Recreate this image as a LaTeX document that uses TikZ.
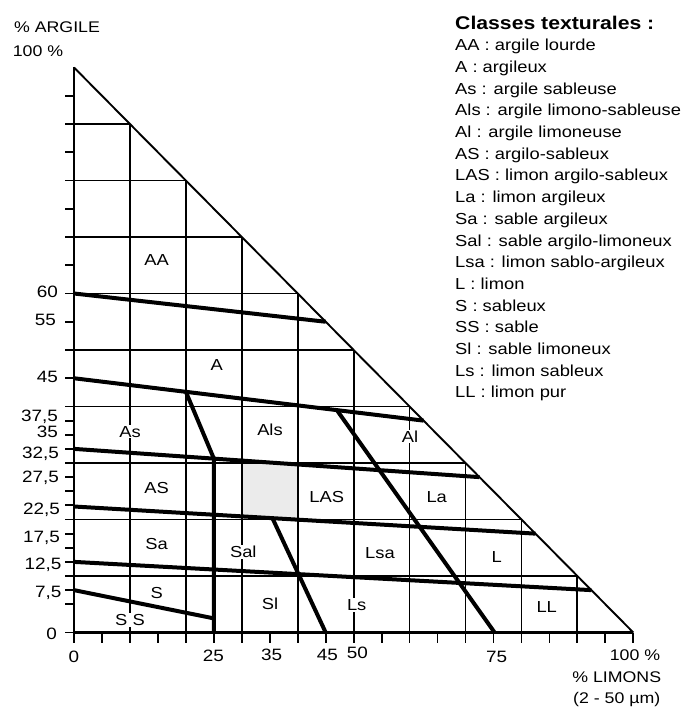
\documentclass[tikz,border=0pt]{standalone}
\usepackage{fontspec}
\setmainfont{Liberation Sans}[FakeStretch=1.15]
\begin{document}
\begin{tikzpicture}[x=1bp,y=-1bp,
  gridline/.style={line width=1.8bp},
  axisline/.style={line width=2.2bp},
  bound/.style={line width=4bp},
  cls/.style={fill=white, inner sep=1bp, font=\fontsize{16}{19}\selectfont},
  axnum/.style={anchor=base east, inner sep=0pt, font=\fontsize{16.5}{19}\selectfont},
  botnum/.style={anchor=base, inner sep=0pt, font=\fontsize{16.5}{19}\selectfont},
  legend/.style={anchor=base west, inner sep=0pt, font=\fontsize{16}{19}\selectfont},
  legtitle/.style={anchor=base west, inner sep=0pt, font=\fontsize{18.5}{22}\selectfont\bfseries}]
\useasboundingbox (0,0) rectangle (685,707);
\fill[white] (0,0) rectangle (685,707);
\begin{scope}[shift={(74,632.5)}, x=5.593bp, y=5.65bp]
  % shaded cell
  \fill[black!8] (30,20) rectangle (40,30);
  % grid
  \foreach \a in {10,20,...,90} {
    \draw[gridline] ({\a},0) -- ({\a},{100-\a});
    \draw[gridline] (0,{\a}) -- ({100-\a},{\a});
  }
  % ticks
  \foreach \a in {0,5,10,...,100} \draw[gridline] ({\a},0) -- ({\a},-1.8);
  \foreach \c in {0,5,7.5,10,12.5,15,17.5,20,22.5,25,27.5,30,32.5,35,37.5,40,45,50,55,60,65,70,75,80,85,90,95}
    \draw[gridline] (0,{\c}) -- (-1.6,{\c});
  % axes and hypotenuse
  \coordinate (O) at (0,0);
  \coordinate (T) at (0,100);
  \coordinate (R) at (100,0);
  \draw[axisline] (T) -- (O) -- (R);
  \draw[line width=1.9bp] (T) -- (R);
  % class boundaries
  \draw[bound] (0,60) -- (45,55);
  \draw[bound] (0,45) -- (62.5,37.5);
  \draw[bound] (0,32.5) -- (72.5,27.5);
  \draw[bound] (0,22.3) -- (82.5,17.5);
  \draw[bound] (0,12.5) -- (92.5,7.5);
  \draw[bound] (0,7.5) -- (25,2.5);
  \draw[bound] (25,0) -- (25,30.8) -- (20,42.6);
  \draw[bound] (35.5,20.2) -- (45,0);
  \draw[bound] (47,39.36) -- (75.2,0);
\end{scope}
% class labels
\node[cls] (AA) at (156.7,260) {AA};
\node[cls] (A) at (216.7,365) {A};
\node[cls] (As) at (130,431.7) {As};
\node[cls] (Als) at (270,430) {Als};
\node[cls] (Al) at (410,436.7) {Al};
\node[cls] (AS) at (156.7,488.3) {AS};
\node[cls] (LAS) at (326.7,496.7) {LAS};
\node[cls] (La) at (436.7,496.7) {La};
\node[cls] (Sa) at (156.7,544) {Sa};
\node[cls] (Sal) at (243.3,551.7) {Sal};
\node[cls] (Lsa) at (380,553.3) {Lsa};
\node[cls] (L) at (496.7,556.7) {L};
\node[cls] (S) at (156.7,593.3) {S};
\node[cls] (SS) at (130,620) {S S};
\node[cls] (Sl) at (270,603.3) {Sl};
\node[cls] (Ls) at (356.7,605) {Ls};
\node[cls] (LL) at (546.7,606.7) {LL};
% axis titles
\node[inner sep=0pt, font=\fontsize{15.5}{18}\selectfont] (argile) at (57,27) {\% ARGILE};
\node[inner sep=0pt, font=\fontsize{15.5}{18}\selectfont] (cent) at (38,51) {100 \%};
% left axis numbers
\node[axnum] (l60) at (58,297.8) {60};
\node[axnum] (l55) at (56,325.8) {55};
\node[axnum] (l45) at (58,382.5) {45};
\node[axnum] (l375) at (58,421.6) {37,5};
\node[axnum] (l35) at (58,437.5) {35};
\node[axnum] (l325) at (59,458.3) {32,5};
\node[axnum] (l275) at (59,482.5) {27,5};
\node[axnum] (l225) at (60,514.1) {22,5};
\node[axnum] (l175) at (60,542.5) {17,5};
\node[axnum] (l125) at (61.5,569.1) {12,5};
\node[axnum] (l75) at (61.5,597.5) {7,5};
\node[axnum] (l0) at (57,639.1) {0};
% bottom axis numbers
\node[botnum] (b0) at (74,662.5) {0};
\node[botnum] (b25) at (213.3,661.8) {25};
\node[botnum] (b35) at (271.7,660.8) {35};
\node[botnum] (b45) at (327.3,660.8) {45};
\node[botnum] (b50) at (357.3,658.8) {50};
\node[botnum] (b75) at (496.7,662.5) {75};
\node[botnum, font=\fontsize{15.5}{18}\selectfont] (b100) at (635,660.6) {100 \%};
\node[botnum, font=\fontsize{15.5}{18}\selectfont] (limons) at (616.7,682.4) {\% LIMONS};
\node[botnum, font=\fontsize{15.5}{18}\selectfont] (um) at (616.7,703) {(2 - 50 µm)};
% legend
\node[legtitle] (legt) at (455,29.3) {Classes texturales :};
\foreach \t [count=\i] in {AA : argile lourde, A : argileux, As : argile sableuse, Als : argile limono-sableuse, Al : argile limoneuse, AS : argilo-sableux, LAS : limon argilo-sableux, La : limon argileux, Sa : sable argileux, Sal : sable argilo-limoneux, Lsa : limon sablo-argileux, L : limon, S : sableux, SS : sable, Sl : sable limoneux, Ls : limon sableux, LL : limon pur}
  \node[legend] (leg\i) at (455,{50.7+(\i-1)*21.7}) {\t};
\end{tikzpicture}
\end{document}
